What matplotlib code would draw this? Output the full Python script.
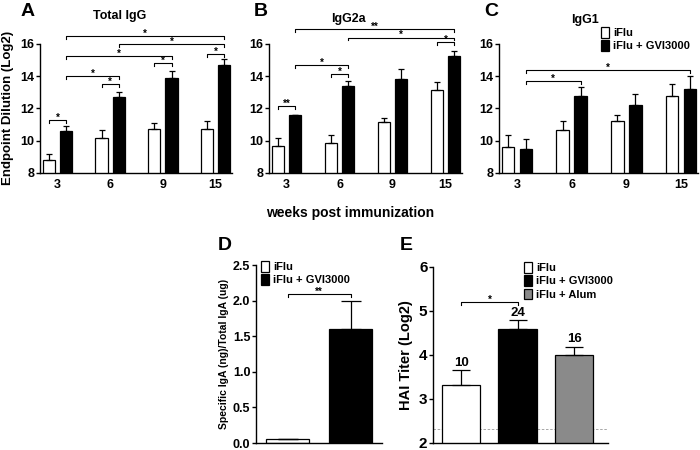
import matplotlib
matplotlib.use('Agg')
import matplotlib.pyplot as plt
from matplotlib.patches import Patch
import numpy as np

plt.rcParams['font.family'] = ['Liberation Sans', 'DejaVu Sans']
plt.rcParams['font.weight'] = 'bold'

# ---- data ----
weeks = ['3', '6', '9', '15']

igg_iflu = [8.8, 10.15, 10.7, 10.7]
igg_iflu_err = [0.4, 0.5, 0.4, 0.55]
igg_gvi = [10.6, 12.7, 13.9, 14.7]
igg_gvi_err = [0.3, 0.3, 0.4, 0.4]

igg2a_iflu = [9.7, 9.85, 11.15, 13.15]
igg2a_iflu_err = [0.47, 0.5, 0.28, 0.5]
igg2a_gvi = [11.57, 13.4, 13.85, 15.25]
igg2a_gvi_err = [0.0, 0.3, 0.6, 0.3]

igg1_iflu = [9.6, 10.65, 11.2, 12.75]
igg1_iflu_err = [0.75, 0.6, 0.37, 0.75]
igg1_gvi = [9.5, 12.75, 12.2, 13.2]
igg1_gvi_err = [0.58, 0.58, 0.7, 0.8]

iga_groups = ['iFlu', 'iFlu + GVI3000']
iga_vals = [0.05, 1.6]
iga_err = [0.01, 0.4]

hai_groups = ['iFlu', 'iFlu + GVI3000', 'iFlu + Alum']
hai_vals = [3.31, 4.58, 3.99]
hai_err = [0.35, 0.21, 0.2]
hai_titers = ['10', '24', '16']
hai_limit = 2.31

# significance brackets: (group_a, bar_a, group_b, bar_b, height, label)  bar 0=iFlu 1=GVI
sig_igg = [(0, 0, 0, 1, 11.3, '*'), (1, 0, 1, 1, 13.5, '*'), (0, 1, 1, 1, 14.0, '*'),
           (2, 0, 2, 1, 14.8, '*'), (0, 1, 2, 1, 15.25, '*'), (3, 0, 3, 1, 15.4, '*'),
           (1, 1, 3, 1, 16.0, '*'), (0, 1, 3, 1, 16.5, '*')]
sig_igg2a = [(0, 0, 0, 1, 12.17, '**'), (1, 0, 1, 1, 14.15, '*'), (0, 1, 1, 1, 14.67, '*'),
             (3, 0, 3, 1, 16.1, '*'), (1, 1, 3, 1, 16.4, '*'), (0, 1, 3, 1, 16.95, '**')]
sig_igg1 = [(0, 1, 1, 1, 13.72, '*'), (0, 1, 3, 1, 14.36, '*')]

WHITE = 'white'
BLACK = 'black'
GRAY = '#8a8a8a'
OFF = 0.164
BW = 0.233


def style(ax, size=9):
    ax.spines['top'].set_visible(False)
    ax.spines['right'].set_visible(False)
    ax.spines['left'].set_linewidth(1.0)
    ax.spines['bottom'].set_linewidth(1.0)
    ax.tick_params(axis='y', length=3, width=1, labelsize=size, pad=1)
    ax.tick_params(axis='x', length=0, labelsize=size, pad=4)
    for t in ax.get_xticklabels() + ax.get_yticklabels():
        t.set_fontweight('bold')


def bracket(ax, x1, x2, y, label, tick, fs=7):
    ax.plot([x1, x1, x2, x2], [y - tick, y, y, y - tick], color='black', lw=0.8, clip_on=False)
    ax.annotate(label, xy=((x1 + x2) / 2, y), xytext=(0, -2), textcoords='offset points',
                ha='center', va='bottom', fontsize=fs, fontweight='bold', annotation_clip=False)


def week_panel(ax, iflu, iflu_err, gvi, gvi_err, sigs):
    x = np.arange(len(weeks))
    ek = dict(ecolor='black', elinewidth=0.9, capthick=0.9)
    ax.bar(x - OFF, iflu, BW, color=WHITE, edgecolor='black', lw=0.9,
           yerr=[np.zeros(4), iflu_err], capsize=2.5, error_kw=ek)
    ax.bar(x + OFF, gvi, BW, color=BLACK, edgecolor='black', lw=0.9,
           yerr=[np.zeros(4), gvi_err], capsize=2.5, error_kw=ek)
    ax.set_ylim(8, 16)
    ax.set_yticks([8, 10, 12, 14, 16])
    ax.set_xlim(-0.33, 3.31)
    ax.set_xticks(x)
    ax.set_xticklabels(weeks)
    style(ax)
    for ga, ba, gb, bb, h, lab in sigs:
        xa = ga + (OFF if ba else -OFF)
        xb = gb + (OFF if bb else -OFF)
        bracket(ax, xa, xb, h, lab, 0.18)
    return ax


fig = plt.figure(figsize=(7, 4.5), dpi=100)
W, H = 700.0, 450.0

axA = fig.add_axes([40 / W, 1 - 173 / H, 192 / W, 129 / H])
axB = fig.add_axes([269 / W, 1 - 173 / H, 193 / W, 129 / H])
axC = fig.add_axes([499 / W, 1 - 173 / H, 199 / W, 129 / H])

week_panel(axA, igg_iflu, igg_iflu_err, igg_gvi, igg_gvi_err, sig_igg)
week_panel(axB, igg2a_iflu, igg2a_iflu_err, igg2a_gvi, igg2a_gvi_err, sig_igg2a)
week_panel(axC, igg1_iflu, igg1_iflu_err, igg1_gvi, igg1_gvi_err, sig_igg1)

fig.text(120 / W, 1 - 16 / H, 'Total IgG', ha='center', va='center', fontsize=9, fontweight='bold')
fig.text(348 / W, 1 - 19 / H, 'IgG2a', ha='center', va='center', fontsize=9, fontweight='bold')
fig.text(585 / W, 1 - 20 / H, 'IgG1', ha='center', va='center', fontsize=9, fontweight='bold')

fig.text(8 / W, 1 - 108 / H, 'Endpoint Dilution (Log2)', rotation=90, ha='center', va='center',
         fontsize=9.5, fontweight='bold')
fig.text(350 / W, 1 - 213 / H, 'weeks post immunization', ha='center', va='center',
         fontsize=10, fontweight='bold')

for lab, xx, yy in [('A', 28, 11), ('B', 261, 11), ('C', 491, 11), ('D', 225, 246), ('E', 406, 246)]:
    fig.text(xx / W, 1 - yy / H, lab, ha='center', va='center', fontsize=14, fontweight='bold')

leg_h = [Patch(facecolor=WHITE, edgecolor='black', lw=0.9),
         Patch(facecolor=BLACK, edgecolor='black', lw=0.9),
         Patch(facecolor=GRAY, edgecolor='black', lw=0.9)]
leg_kw = dict(loc='upper left', bbox_transform=fig.transFigure, frameon=False,
              borderaxespad=0, borderpad=0, handlelength=0.7, handleheight=1.1,
              handletextpad=0.4, labelspacing=0.2, prop={'size': 8, 'weight': 'bold'})

axC.legend(leg_h[:2], ['iFlu', 'iFlu + GVI3000'], bbox_to_anchor=(601 / W, 1 - 27 / H), **leg_kw)

# ---- D ----
axD = fig.add_axes([256 / W, 1 - 443 / H, 126 / W, 178 / H])
xd = np.arange(len(iga_groups))
axD.bar(xd, iga_vals, 0.667, color=[WHITE, BLACK], edgecolor='black', lw=0.9,
        yerr=[np.zeros(2), iga_err], capsize=7,
        error_kw=dict(ecolor='black', elinewidth=0.9, capthick=0.9))
axD.set_ylim(0, 2.5)
axD.set_yticks([0.0, 0.5, 1.0, 1.5, 2.0, 2.5])
axD.set_yticklabels(['0.0', '0.5', '1.0', '1.5', '2.0', '2.5'])
axD.set_xlim(-0.5, 1.5)
axD.set_xticks([])
style(axD)
axD.set_ylabel('Specific IgA (ng)/Total IgA (ug)', fontsize=7.5, fontweight='bold', labelpad=3)
bracket(axD, 0.0, 1.0, 2.09, '**', 0.04)
axD.legend(leg_h[:2], iga_groups, bbox_to_anchor=(261 / W, 1 - 261 / H), **leg_kw)

# ---- E ----
axE = fig.add_axes([433 / W, 1 - 443 / H, 175 / W, 176 / H])
xe = np.arange(len(hai_groups))
axE.axhline(hai_limit, color='#999999', lw=0.6, ls=(0, (3, 2)), zorder=0)
axE.bar(xe, hai_vals, 0.68, color=[WHITE, BLACK, GRAY], edgecolor='black', lw=0.9,
        yerr=[np.zeros(3), hai_err], capsize=6.5,
        error_kw=dict(ecolor='black', elinewidth=0.9, capthick=0.9))
for xi, v, e, t in zip(xe, hai_vals, hai_err, hai_titers):
    axE.annotate(t, xy=(xi, v + e), xytext=(0, 1), textcoords='offset points',
                 ha='center', va='bottom', fontsize=9.5, fontweight='bold')
axE.set_ylim(2, 6)
axE.set_yticks([2, 3, 4, 5, 6])
axE.set_xlim(-0.5, 2.6)
axE.set_xticks([])
style(axE, size=11)
axE.set_ylabel('HAI Titer (Log2)', fontsize=10.5, fontweight='bold', labelpad=4)
bracket(axE, 0.0, 1.0, 5.2, '*', 0.07)
axE.legend(leg_h, hai_groups, bbox_to_anchor=(524 / W, 1 - 262 / H), **leg_kw)

fig.savefig('out.png', dpi=100)
